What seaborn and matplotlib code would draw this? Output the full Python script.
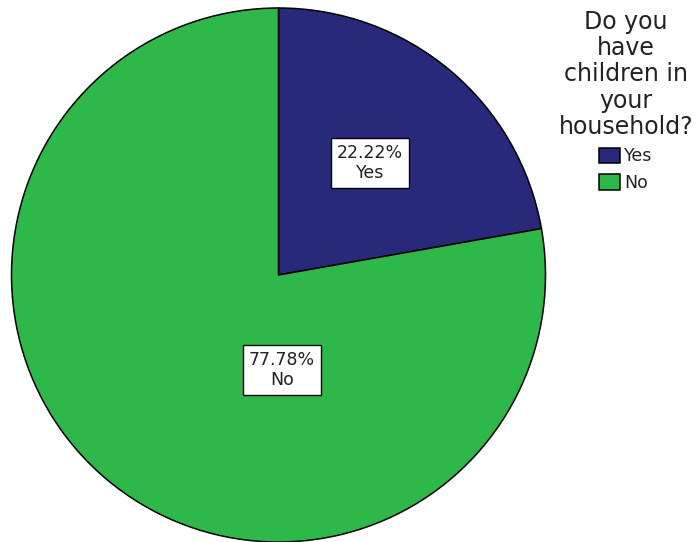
import matplotlib
matplotlib.use("Agg")
import matplotlib.pyplot as plt
import seaborn as sns

# Survey answers: share of respondents with children in the household
categories = ["Yes", "No"]
shares = [22.22, 77.78]
slice_colors = ["#28297a", "#2fb84a"]
legend_title = "Do you\nhave\nchildren in\nyour\nhousehold?"

sns.set_theme(style="white")
plt.rcParams["font.family"] = ["DejaVu Sans"]

W, H = 699, 542
fig = plt.figure(figsize=(W / 100, H / 100), dpi=100)
ax = fig.add_axes([0, 0, 1, 1])

center = (278.5, H - 275)
radius = 267

wedges, _ = ax.pie(
    shares,
    colors=slice_colors,
    startangle=90,
    counterclock=False,
    center=center,
    radius=radius,
    wedgeprops=dict(edgecolor="black", linewidth=1.1),
    frame=True,
)
ax.set_xlim(0, W)
ax.set_ylim(0, H)
ax.set_aspect("equal")
ax.axis("off")

# Value labels in white boxes
label_pos = [(370, H - 163), (282, H - 370)]
for (x, y), cat, val in zip(label_pos, categories, shares):
    ax.text(
        x, y, f"{val:.2f}%\n{cat}",
        ha="center", va="center", fontsize=12.5, color="#222222",
        linespacing=1.1,
        bbox=dict(boxstyle="square,pad=0.35", facecolor="white",
                  edgecolor="black", linewidth=1.0),
    )

leg = ax.legend(
    wedges, categories,
    title=legend_title,
    loc="upper center",
    bbox_to_anchor=(626 / W, 1 - 1 / H),
    frameon=False,
    fontsize=12.5,
    title_fontsize=17,
    handlelength=1.2,
    handleheight=1.0,
    handletextpad=0.25,
    labelspacing=0.5,
    borderpad=0.0,
)
leg.get_title().set_multialignment("center")
leg.get_title().set_linespacing(1.12)
leg.get_title().set_color("#222222")
for t in leg.get_texts():
    t.set_color("#222222")

fig.savefig("out.png", dpi=100, facecolor="white")
